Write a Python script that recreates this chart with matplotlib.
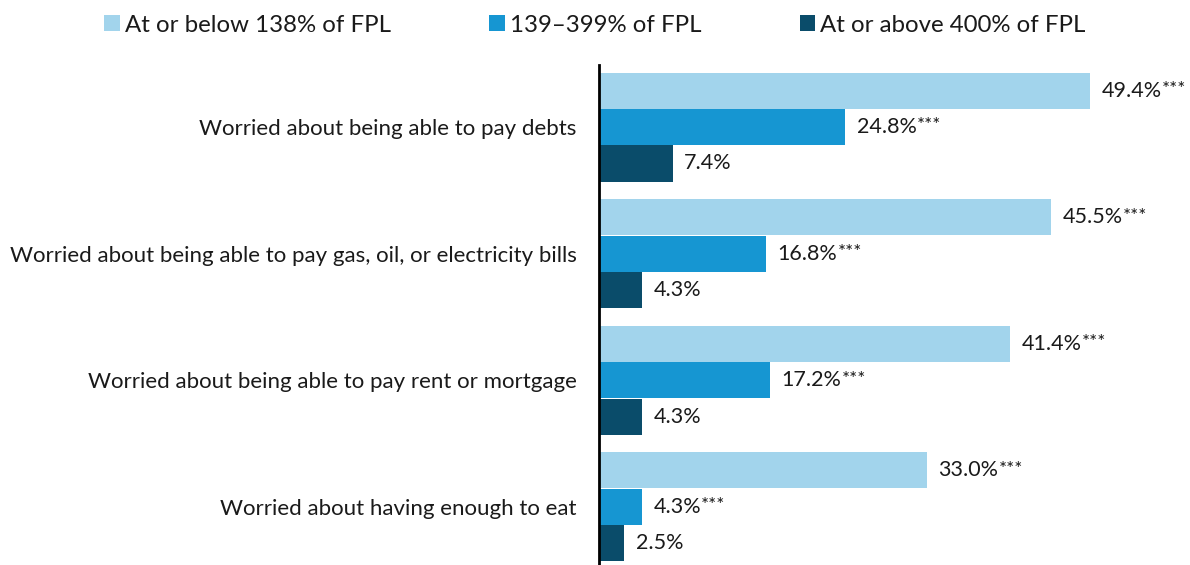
import numpy as np
import matplotlib
matplotlib.use("Agg")
import matplotlib.pyplot as plt
from matplotlib.patches import Patch

plt.rcParams['font.family'] = ['Lato', 'DejaVu Sans']

# Data
categories = [
    'Worried about being able to pay debts',
    'Worried about being able to pay gas, oil, or electricity bills',
    'Worried about being able to pay rent or mortgage',
    'Worried about having enough to eat',
]
series_names = ['At or below 138% of FPL', '139\u2013399% of FPL', 'At or above 400% of FPL']
low_income = [49.4, 45.5, 41.4, 33.0]
mid_income = [24.8, 16.8, 17.2, 4.3]
high_income = [7.4, 4.3, 4.3, 2.5]
low_sig = ['***', '***', '***', '***']
mid_sig = ['***', '***', '***', '***']
high_sig = ['', '', '', '']

colors = ['#a2d4ec', '#1696d2', '#0a4c6a']
text_color = '#1a1a1a'

fig = plt.figure(figsize=(11.9, 5.65), dpi=100)
ax = fig.add_axes([599 / 1190, 0.0, 1 - 599 / 1190, 500 / 565])

y = np.arange(len(categories))
h = 0.285
step = 0.288
all_vals = [low_income, mid_income, high_income]
all_sig = [low_sig, mid_sig, high_sig]

for i, (vals, sig) in enumerate(zip(all_vals, all_sig)):
    pos = y + (i - 1) * step
    ax.barh(pos, vals, height=h, color=colors[i], edgecolor='none')
    for p, v, s in zip(pos, vals, sig):
        t = ax.annotate(f'{v:.1f}%', xy=(v, p), xytext=(8.5, 0), textcoords='offset points',
                        ha='left', va='center', fontsize=15.5, color=text_color)
        if s:
            ax.annotate(s, xy=(1, 0.98), xycoords=t, ha='left', va='top',
                        fontsize=13.5, color=text_color)

ax.set_xlim(0, 59.5)
ax.set_ylim(3.46, -0.49)
ax.set_yticks(y)
ax.set_yticklabels(categories, fontsize=16, color=text_color)
ax.tick_params(axis='y', length=0, pad=16)
ax.set_xticks([])
for side in ['top', 'right', 'bottom']:
    ax.spines[side].set_visible(False)
ax.spines['left'].set_linewidth(2)
ax.spines['left'].set_color('#000000')

handles = [Patch(facecolor=c, edgecolor='none') for c in colors]
fig.legend(handles, series_names, loc='center', bbox_to_anchor=(0.5, 1 - 25 / 565),
           ncol=3, frameon=False, fontsize=17.3, handlelength=0.65, handleheight=0.65,
           handletextpad=0.2, columnspacing=4.1, labelcolor=text_color)

fig.savefig('out.png', dpi=100)
